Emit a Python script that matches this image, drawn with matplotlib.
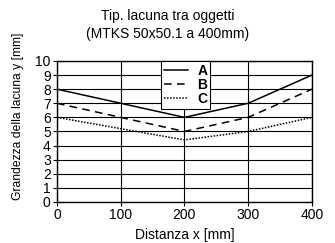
import matplotlib
matplotlib.use("Agg")
import matplotlib.pyplot as plt

plt.rcParams["font.family"] = ["Liberation Sans Narrow", "Liberation Sans", "DejaVu Sans"]

distance = [0, 100, 200, 300, 400]
gap_a = [8, 7, 6, 7, 9]
gap_b = [7, 6, 5, 6, 8]
gap_c = [6, 5.2, 4.4, 5, 6]

fig = plt.figure(figsize=(3.35, 2.43), dpi=100)
ax = fig.add_axes([0.170, 0.169, 0.761, 0.580])

ax.plot(distance, gap_a, color="black", lw=1.1, label="A")
ax.plot(distance, gap_b, color="black", lw=1.1, dashes=(5, 3.5), label="B")
ax.plot(distance, gap_c, color="black", lw=1.1, dashes=(1, 1), label="C")

ax.set_xlim(0, 400)
ax.set_ylim(0, 10)
ax.set_xticks([0, 100, 200, 300, 400])
ax.set_yticks(range(0, 11))
ax.grid(True, color="black", lw=0.8)
ax.tick_params(labelsize=10, length=3, width=0.8, pad=1.5, colors="black")
for s in ax.spines.values():
    s.set_linewidth(1.0)

ax.set_xlabel("Distanza x [mm]", fontsize=10, labelpad=4)
ax.set_ylabel("Grandezza della lacuna y [mm]", fontsize=8.7)
ax.yaxis.set_label_coords(-0.13, 0.61)
fig.text(0.5, 0.962, "Tip. lacuna tra oggetti\n(MTKS 50x50.1 a 400mm)", fontsize=10,
         ha="center", va="top", linespacing=1.3)

leg = ax.legend(loc="upper center", bbox_to_anchor=(0.505, 1.0), fontsize=10, frameon=True,
                fancybox=False, edgecolor="black", framealpha=1, borderpad=0.2,
                labelspacing=0.0, handlelength=1.7, handletextpad=0.7, borderaxespad=0.0)
leg.get_frame().set_linewidth(0.8)
for t in leg.get_texts():
    t.set_fontweight("bold")

fig.savefig("out.png", dpi=100)
